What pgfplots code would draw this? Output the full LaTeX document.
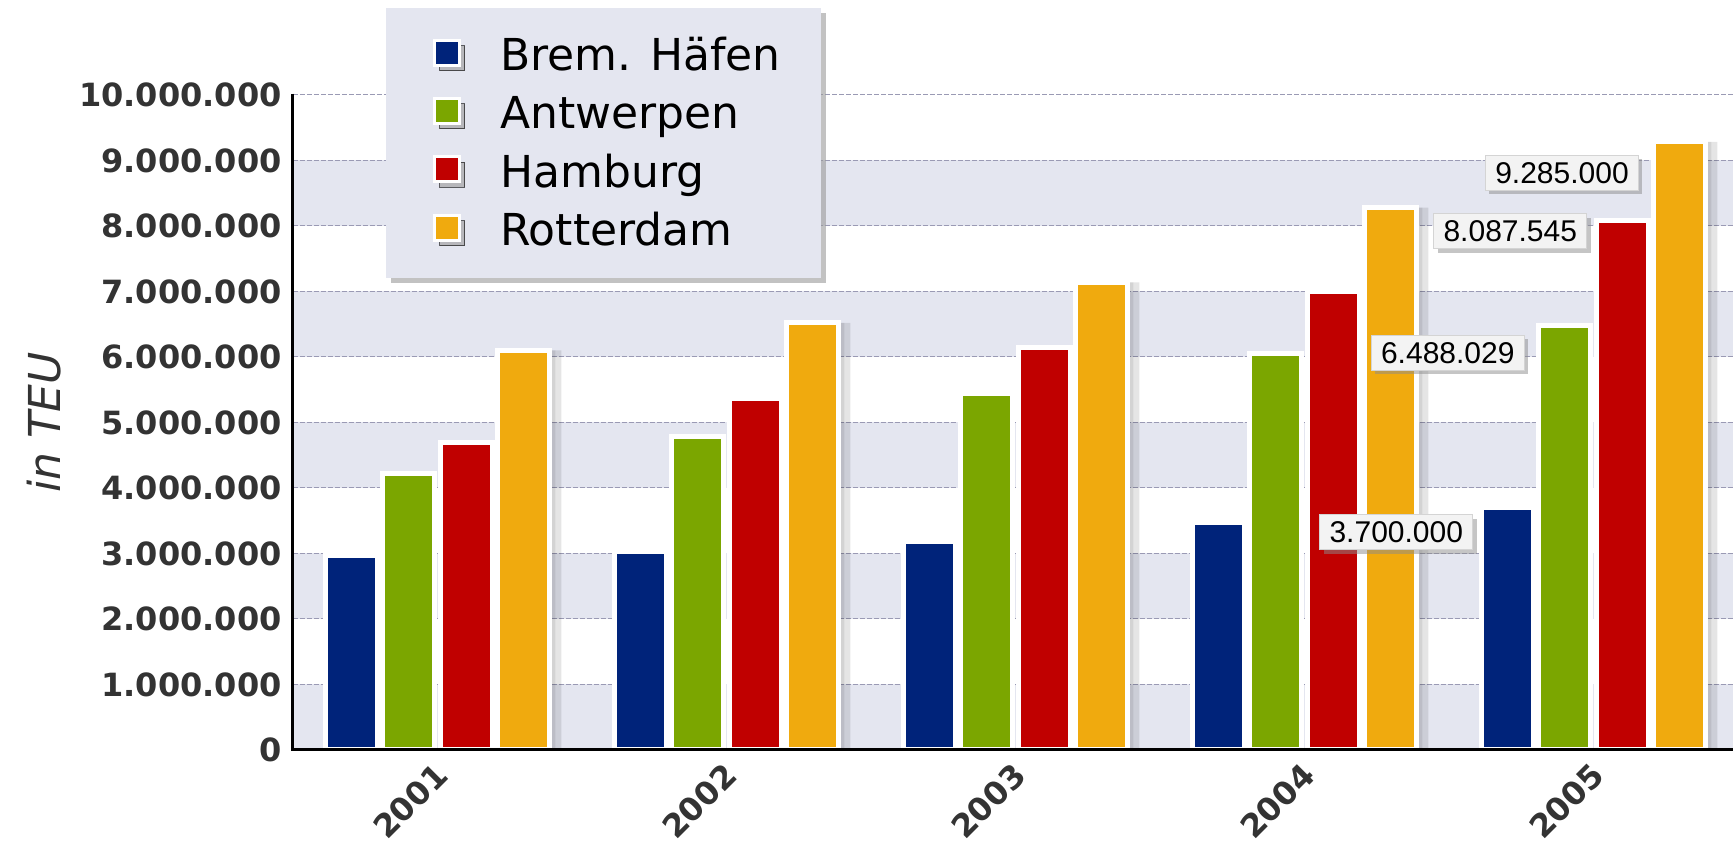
\documentclass[border=0pt]{standalone}
\usepackage{fontspec}
\setmainfont{DejaVu Sans}
\newfontfamily\arialfont{Liberation Sans}
\usepackage{pgfplots}
\pgfplotsset{compat=1.18}
\usetikzlibrary{shadows}
\definecolor{cblue}{HTML}{00237A}
\definecolor{cgreen}{HTML}{7BA600}
\definecolor{cred}{HTML}{C00000}
\definecolor{corange}{HTML}{F0AA0E}
\definecolor{band}{HTML}{E4E6F0}
\definecolor{gridc}{HTML}{9A9AB4}
\definecolor{txt}{HTML}{333333}
\definecolor{lblfill}{HTML}{F3F3F3}
\definecolor{lblborder}{HTML}{D4D4D4}

\pgfplotstableread{
x brem antw hamb rott
0 2970000 4220000 4690000 6100000
1 3030000 4780000 5370000 6520000
2 3190000 5450000 6140000 7140000
3 3470000 6060000 7000000 8280000
4 3700000 6488029 8087545 9285000
}\teu

\tikzset{
  lbl/.style={anchor=north east, font=\arialfont\fontsize{15}{15}\selectfont,
    fill=lblfill, draw=lblborder, line width=0.4pt, minimum width=76.5pt,
    minimum height=17.5pt, inner sep=0pt, text height=10.8pt, text depth=0pt,
    text=black, drop shadow={shadow xshift=2pt, shadow yshift=-2pt, fill=black!45, opacity=0.5}},
}
\pgfplotsset{
  legsq/.style={legend image code/.code={
    \path (-6pt,0pt);
    \draw[white, line width=1.5pt, fill=#1] (0pt,-5pt) rectangle (12.5pt,7.5pt);}},
  mybar/.style={ybar, bar width=26pt, bar shift=#1, draw=white, line width=2.5pt, forget plot},
}

\begin{document}
\begin{tikzpicture}
\begin{axis}[name=ax, scale only axis, width=720pt, height=327.5pt,
  xmin=-0.5, xmax=4.483, ymin=0, ymax=10000000,
  axis x line=bottom, axis y line=left, axis line style={draw=none},
  major tick length=0pt, clip=false,
  xtick={0,1,2,3,4}, xticklabels={2001,2002,2003,2004,2005},
  ytick={0,1000000,2000000,3000000,4000000,5000000,6000000,7000000,8000000,9000000,10000000},
  yticklabels={0,1.000.000,2.000.000,3.000.000,4.000.000,5.000.000,6.000.000,7.000.000,8.000.000,9.000.000,10.000.000},
  scaled y ticks=false,
  yticklabel style={font=\bfseries\fontsize{16}{16}\selectfont, text=txt, anchor=east, inner sep=0pt, xshift=-5.5pt},
  xticklabel style={font=\bfseries\fontsize{16}{16}\selectfont, text=txt, rotate=45, anchor=north east, inner sep=0pt, xshift=-5.2pt, yshift=-2.3pt},
  ylabel={in TEU},
  every axis y label/.style={at={(axis description cs:-0.1729,0.5)}, rotate=90, anchor=center, font=\itshape\fontsize{22}{22}\selectfont, text=txt},
  legend style={at={(axis description cs:0.0646,1.1328)}, anchor=north west,
    fill=band, draw=none, drop shadow={shadow xshift=2.5pt, shadow yshift=-2.5pt, fill=black!40, opacity=0.6},
    inner xsep=18pt, inner ysep=12.5pt, row sep=7.2pt, column sep=17.5pt,
    font=\fontsize{22}{22}\selectfont},
  legend cell align=left,
]
% background bands
\fill[band] (axis cs:-0.5,0) rectangle (axis cs:4.483,1000000);
\fill[band] (axis cs:-0.5,2000000) rectangle (axis cs:4.483,3000000);
\fill[band] (axis cs:-0.5,4000000) rectangle (axis cs:4.483,5000000);
\fill[band] (axis cs:-0.5,6000000) rectangle (axis cs:4.483,7000000);
\fill[band] (axis cs:-0.5,8000000) rectangle (axis cs:4.483,9000000);
% grid lines
\begin{scope}[gridc, line width=0.5pt, dash pattern=on 2.5pt off 1pt]
\draw (axis cs:-0.5,1000000) -- (axis cs:4.483,1000000);
\draw (axis cs:-0.5,2000000) -- (axis cs:4.483,2000000);
\draw (axis cs:-0.5,3000000) -- (axis cs:4.483,3000000);
\draw (axis cs:-0.5,4000000) -- (axis cs:4.483,4000000);
\draw (axis cs:-0.5,5000000) -- (axis cs:4.483,5000000);
\draw (axis cs:-0.5,6000000) -- (axis cs:4.483,6000000);
\draw (axis cs:-0.5,7000000) -- (axis cs:4.483,7000000);
\draw (axis cs:-0.5,8000000) -- (axis cs:4.483,8000000);
\draw (axis cs:-0.5,9000000) -- (axis cs:4.483,9000000);
\draw (axis cs:-0.5,10000000) -- (axis cs:4.483,10000000);
\end{scope}
% shadow right of each group
\addplot[ybar, bar width=6pt, bar shift=59pt, draw=none, fill=black, fill opacity=0.10, forget plot] table[x=x, y=rott] {\teu};
\addplot[ybar, bar width=3pt, bar shift=57.5pt, draw=none, fill=black, fill opacity=0.08, forget plot] table[x=x, y=rott] {\teu};
% bars
\addplot[mybar=-43.125pt, fill=cblue] table[x=x, y=brem] {\teu};
\addplot[mybar=-14.375pt, fill=cgreen] table[x=x, y=antw] {\teu};
\addplot[mybar=14.375pt, fill=cred] table[x=x, y=hamb] {\teu};
\addplot[mybar=43.125pt, fill=corange] table[x=x, y=rott] {\teu};
% axis lines
\draw[black, line width=1.5pt] (axis cs:-0.5,10020000) -- (axis cs:-0.5,0) -- (axis cs:4.483,0);
% value labels
\addplot[draw=none, mark=none, forget plot, point meta=explicit symbolic, nodes near coords,
  every node near coord/.append style={lbl, xshift=-20.4pt, yshift=-6.5pt}]
  coordinates {(4.29844,9285000) [9.285.000]};
\addplot[draw=none, mark=none, forget plot, point meta=explicit symbolic, nodes near coords,
  every node near coord/.append style={lbl, xshift=-17.5pt, yshift=3.5pt}]
  coordinates {(4.09948,8087545) [8.087.545]};
\addplot[draw=none, mark=none, forget plot, point meta=explicit symbolic, nodes near coords,
  every node near coord/.append style={lbl, xshift=-20pt, yshift=-5pt}]
  coordinates {(3.90052,6488029) [6.488.029]};
\addplot[draw=none, mark=none, forget plot, point meta=explicit symbolic, nodes near coords,
  every node near coord/.append style={lbl, xshift=-17pt, yshift=-3.25pt}]
  coordinates {(3.70156,3700000) [3.700.000]};
% legend
\addlegendimage{legsq=cblue}\addlegendentry{Brem. Häfen}
\addlegendimage{legsq=cgreen}\addlegendentry{Antwerpen}
\addlegendimage{legsq=cred}\addlegendentry{Hamburg}
\addlegendimage{legsq=corange}\addlegendentry{Rotterdam}
\end{axis}
\pgfresetboundingbox
\path[use as bounding box] ([xshift=-146.5pt,yshift=-47pt]ax.south west) rectangle ([yshift=47.5pt]ax.north east);
\end{tikzpicture}
\end{document}
